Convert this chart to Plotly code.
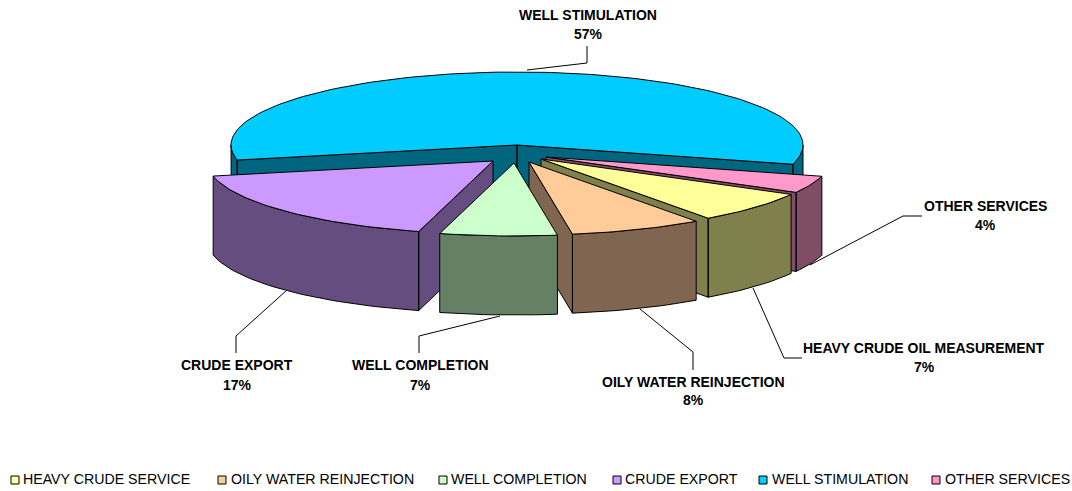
import math
import plotly.graph_objects as go

# --- data (order: clockwise around the pie) ---
slice_names = ["HEAVY CRUDE SERVICE", "OILY WATER REINJECTION", "WELL COMPLETION",
               "CRUDE EXPORT", "WELL STIMULATION", "OTHER SERVICES"]
slice_values = [7.0, 7.5, 6.6, 17.49, 57.49, 3.8]
top_colors = ["#FFFF99", "#FFCC99", "#CCFFCC", "#CC99FF", "#00CCFF", "#FF99CC"]
side_colors = ["#80804D", "#806650", "#668066", "#664D80", "#006680", "#804D66"]

# --- data-label names as printed on the chart ---
label_names = ["HEAVY CRUDE OIL MEASUREMENT", "OILY WATER REINJECTION", "WELL COMPLETION",
               "CRUDE EXPORT", "WELL STIMULATION", "OTHER SERVICES"]

# --- layout constants (chart area measured in pixels) ---
W, H = 1072, 491
CENTER = (517, 145)
RX, RY, DEPTH = 286, 73, 79
START_ANGLE = 119.0
EXPLODE = [(24, 14), (12, 17), (-3, 18), (-24, 16), (0, 0), (29, 12)]
DRAW_ORDER = [4, 5, 3, 0, 1, 2]
LABEL_POS = [(924, 348, 367), (693, 382, 400), (420, 365, 385), (237, 365, 385), (588, 15, 34), (985, 206, 225)]
LEADERS = [
    [(753, 288), (784, 358), (802, 358)],
    [(640, 309), (693, 352), (693, 370)],
    [(500, 316), (419, 336), (419, 353)],
    [(287, 290), (236, 336), (236, 353)],
    [(527, 70), (587, 63), (587, 46)],
    [(810, 265), (903, 216), (922, 216)],
]
LEGEND_MARK_X = [15, 222, 443, 617, 763, 936]
LEGEND_TEXT_X = [21, 229, 449, 623, 770, 943]
LEGEND_Y = 480
FONT = "Liberation Sans"


def rim(cx, cy, a0, a1, drop=0):
    n = max(2, int(abs(a1 - a0) / 1.5) + 1)
    pts = []
    for i in range(n + 1):
        t = math.radians(a0 + (a1 - a0) * i / n)
        pts.append((cx + RX * math.sin(t), cy - RY * math.cos(t) + drop))
    return pts


def add_poly(fig, polys, fill, name):
    xs, ys = [], []
    for poly in polys:
        closed = poly + [poly[0]]
        xs += [p[0] for p in closed] + [None]
        ys += [p[1] for p in closed] + [None]
    fig.add_trace(go.Scatter(x=xs[:-1], y=ys[:-1], mode="lines", fill="toself", fillcolor=fill,
                             line=dict(color="#000000", width=1), name=name,
                             hoverinfo="skip", showlegend=False))


# cumulative angles from the values
total = sum(slice_values)
angles = []
a = START_ANGLE
for v in slice_values:
    b = a + v / total * 360
    angles.append((a, b))
    a = b

fig = go.Figure()
for idx in DRAW_ORDER:
    a0, a1 = angles[idx]
    cx = CENTER[0] + EXPLODE[idx][0]
    cy = CENTER[1] + EXPLODE[idx][1]
    apex = (cx, cy)
    walls = []
    # radial cut walls that face the viewer
    for ang, visible in ((a0, math.sin(math.radians(a0)) < 0), (a1, math.sin(math.radians(a1)) > 0)):
        if visible:
            e = rim(cx, cy, ang, ang + 0.001)[0]
            walls.append([apex, e, (e[0], e[1] + DEPTH), (apex[0], apex[1] + DEPTH)])
    # outer rim wall: only the near half of the ellipse
    for lo, hi in ((a0, a1), (a0 - 360, a1 - 360)):
        s, t = max(lo, 90), min(hi, 270)
        if s < t:
            walls.append(rim(cx, cy, s, t) + rim(cx, cy, t, s, DEPTH))
    if walls:
        add_poly(fig, walls, side_colors[idx], slice_names[idx] + " side")
    add_poly(fig, [[apex] + rim(cx, cy, a0, a1)], top_colors[idx], slice_names[idx])

# leader lines and data labels
for name, value, pts, pos in zip(label_names, slice_values, LEADERS, LABEL_POS):
    fig.add_trace(go.Scatter(x=[p[0] for p in pts], y=[p[1] for p in pts], mode="lines",
                             line=dict(color="#000000", width=1), hoverinfo="skip", showlegend=False))
    for txt, y in ((name, pos[1]), (f"{round(value)}%", pos[2])):
        fig.add_annotation(x=pos[0], y=y, text=f"<b>{txt}</b>",
                           showarrow=False, xanchor="center", yanchor="middle",
                           font=dict(family=FONT, size=14, color="#000000"))

# legend row
for name, color, mx, tx in zip(slice_names, top_colors, LEGEND_MARK_X, LEGEND_TEXT_X):
    fig.add_trace(go.Scatter(x=[mx], y=[LEGEND_Y], mode="markers",
                             marker=dict(symbol="square", size=8, color=color,
                                         line=dict(color="#000000", width=1)),
                             hoverinfo="skip", showlegend=False, cliponaxis=False))
    fig.add_annotation(x=tx, y=LEGEND_Y - 1, text=name, showarrow=False, xanchor="left", yanchor="middle",
                       font=dict(family=FONT, size=14.2, color="#000000"))

fig.update_layout(width=W, height=H, margin=dict(l=0, r=0, t=0, b=0),
                  paper_bgcolor="#FFFFFF", plot_bgcolor="#FFFFFF", showlegend=False,
                  xaxis=dict(range=[0, W], visible=False, fixedrange=True),
                  yaxis=dict(range=[H, 0], visible=False, fixedrange=True))
fig.write_html("out.html", config={"displayModeBar": False},
               post_script="document.body.style.margin='0';document.documentElement.style.overflow='hidden';")
